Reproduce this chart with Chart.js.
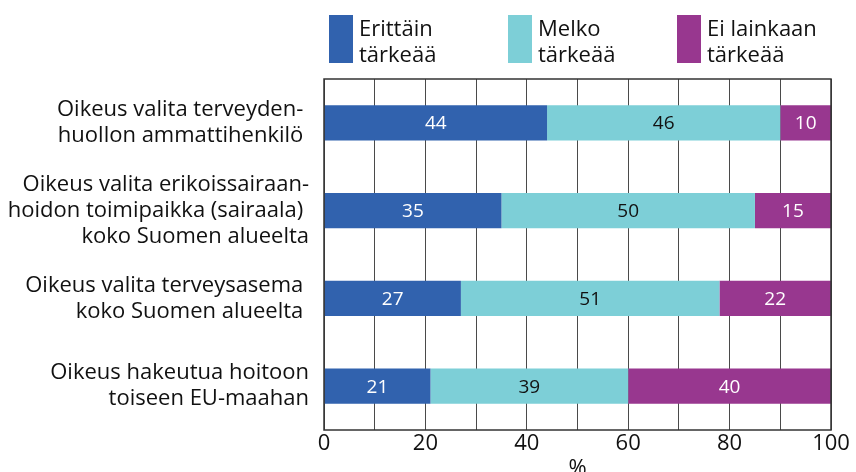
<!DOCTYPE html>
<html>
<head>
<meta charset="utf-8">
<script src="https://cdn.jsdelivr.net/npm/chart.js@4"></script>
<style>
  html, body { margin: 0; padding: 0; background: #fff; overflow: hidden; }
  #wrap { width: 856px; height: 480px; }
</style>
</head>
<body>
<div id="wrap"><canvas id="chart" width="856" height="480"></canvas></div>
<script>
const categories = [
  ['Oikeus valita terveyden- ', 'huollon ammattihenkilö '],
  ['Oikeus valita erikoissairaan-', 'hoidon toimipaikka (sairaala) ', 'koko Suomen alueelta'],
  ['Oikeus valita terveysasema ', 'koko Suomen alueelta '],
  ['Oikeus hakeutua hoitoon', 'toiseen EU-maahan'],
];
const seriesNames = [
  ['Erittäin', 'tärkeää'],
  ['Melko', 'tärkeää'],
  ['Ei lainkaan', 'tärkeää'],
];
const veryImportant = [44, 35, 27, 21];
const fairlyImportant = [46, 50, 51, 39];
const notImportant = [10, 15, 22, 40];

const FONT = "'Open Sans', 'DejaVu Sans', sans-serif";

// legend drawn by hand: boxes on top, two-line text beside each
const legendPlugin = {
  id: 'topLegend',
  afterDraw(chart) {
    const ctx = chart.ctx;
    const xs = [329, 508, 677];
    ctx.save();
    ctx.font = '22px ' + FONT;
    ctx.textBaseline = 'alphabetic';
    ctx.textAlign = 'left';
    chart.data.datasets.forEach((ds, i) => {
      ctx.fillStyle = ds.backgroundColor;
      ctx.fillRect(xs[i], 15, 24, 48);
      ctx.fillStyle = '#111';
      const lines = Array.isArray(ds.label) ? ds.label : [ds.label];
      lines.forEach((t, j) => ctx.fillText(t, xs[i] + 30, 36 + j * 26));
    });
    ctx.restore();
  },
};

// values written in the middle of each segment
const valuePlugin = {
  id: 'values',
  afterDatasetsDraw(chart) {
    const ctx = chart.ctx;
    ctx.save();
    ctx.font = '19px ' + FONT;
    ctx.textAlign = 'center';
    ctx.textBaseline = 'middle';
    chart.data.datasets.forEach((ds, i) => {
      const meta = chart.getDatasetMeta(i);
      meta.data.forEach((bar, j) => {
        ctx.fillStyle = ds.labelColor;
        ctx.fillText(ds.data[j], (bar.x + bar.base) / 2, bar.y + 1);
      });
    });
    // frame round the plot
    const a = chart.chartArea;
    ctx.strokeStyle = '#333';
    ctx.lineWidth = 1.5;
    ctx.strokeRect(a.left, a.top, a.right - a.left, a.bottom - a.top);
    ctx.restore();
  },
};

new Chart(document.getElementById('chart'), {
  type: 'bar',
  data: {
    labels: categories,
    datasets: [
      { label: seriesNames[0], data: veryImportant, backgroundColor: '#3162ae', labelColor: '#fff' },
      { label: seriesNames[1], data: fairlyImportant, backgroundColor: '#7dcfd7', labelColor: '#111' },
      { label: seriesNames[2], data: notImportant, backgroundColor: '#98378f', labelColor: '#fff' },
    ],
  },
  options: {
    indexAxis: 'y',
    responsive: false,
    animation: false,
    datasets: { bar: { barPercentage: 0.4, categoryPercentage: 1 } },
    layout: { padding: { top: 79, right: 25, left: 0, bottom: 0 } },
    plugins: { legend: { display: false }, tooltip: { enabled: false } },
    scales: {
      x: {
        stacked: true,
        min: 0,
        max: 100,
        grid: { color: '#4a4a4a', lineWidth: 1, drawTicks: false },
        border: { display: false },
        ticks: {
          stepSize: 10,
          autoSkip: false,
          maxRotation: 0,
          padding: 3,
          color: '#111',
          font: { family: FONT, size: 22, lineHeight: 1 },
          callback: v => (v % 20 === 0 ? v : ''),
        },
        title: {
          display: true,
          text: '%',
          color: '#111',
          padding: 0,
          font: { family: FONT, size: 22, lineHeight: 1 },
        },
      },
      y: {
        stacked: true,
        grid: { display: false },
        border: { display: false },
        afterFit: scale => { scale.width = 324; },
        ticks: {
          padding: 7,
          color: '#111',
          font: { family: FONT, size: 22, lineHeight: 1.18 },
        },
      },
    },
  },
  plugins: [legendPlugin, valuePlugin],
});
</script>
</body>
</html>
